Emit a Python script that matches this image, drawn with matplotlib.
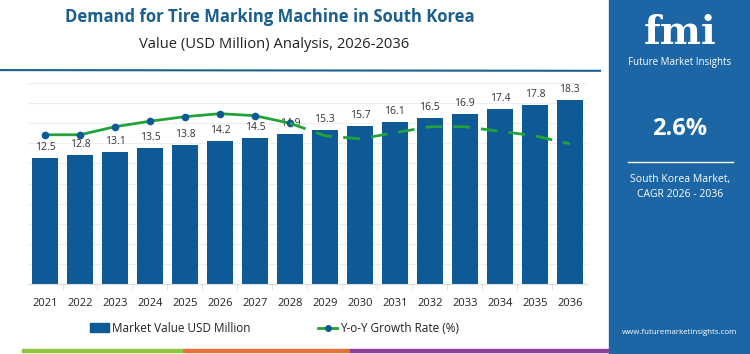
import matplotlib
matplotlib.use('Agg')
import matplotlib.pyplot as plt
from matplotlib.lines import Line2D
from matplotlib.patches import Patch, Rectangle

plt.rcParams['font.family'] = ['Open Sans', 'DejaVu Sans']

years = ['2021', '2022', '2023', '2024', '2025', '2026', '2027', '2028',
         '2029', '2030', '2031', '2032', '2033', '2034', '2035', '2036']
market_value = [12.5, 12.8, 13.1, 13.5, 13.8, 14.2, 14.5, 14.9,
                15.3, 15.7, 16.1, 16.5, 16.9, 17.4, 17.8, 18.3]
growth = [2.97, 2.97, 3.13, 3.24, 3.33, 3.39, 3.35, 3.20,
          2.95, 2.89, 3.01, 3.13, 3.13, 3.04, 2.95, 2.79]
n_actual = 8  # solid + markers up to 2028, dashed after

BAR = '#0d5a96'
LINE = '#22a33a'
DOT = '#0d5a96'
TITLE = '#1b5f8e'
PANEL = '#1c66a5'

fig = plt.figure(figsize=(7.5, 3.54), dpi=100)
ax = fig.add_axes([0.0367, 0.1977, 0.7463, 0.5678])
x = list(range(len(years)))

ax.bar(x, market_value, width=0.74, color=BAR, zorder=2)
for xi, v in zip(x, market_value):
    ax.annotate(f"{v}", (xi, v), xytext=(0, 4), textcoords='offset points',
                ha='center', va='bottom', fontsize=7.5, color='#333333', zorder=5)

ax.set_xlim(-0.5, len(years) - 0.5)
ax.set_ylim(0, 20)
ax.set_yticks(range(0, 21, 2))
ax.grid(True, axis='y', color='#eeeeee', linewidth=0.8, zorder=0)
ax.set_xticks(x)
ax.set_xticklabels(years, fontsize=8, color='#222222')
ax.set_xticks([i + 0.5 for i in x[:-1]], minor=True)
ax.tick_params(axis='x', which='major', length=0, pad=10)
ax.tick_params(axis='x', which='minor', length=4, color='#dddddd')
for s in ['top', 'right', 'left']:
    ax.spines[s].set_visible(False)
ax.spines['bottom'].set_color('#dddddd')

ax2 = ax.twinx()
ax2.set_ylim(0, 4)
ax2.axis('off')
ax.tick_params(axis='y', which='both', left=False, right=False,
               labelleft=False, labelright=False)
ax2.plot(x[:n_actual], growth[:n_actual], color=LINE, linewidth=2,
         marker='o', markersize=4.5, markerfacecolor=DOT, markeredgecolor=DOT, zorder=4)
ax2.plot(x[n_actual - 1:], growth[n_actual - 1:], color=LINE, linewidth=2,
         linestyle=(0, (6, 4)), zorder=4)

# titles
fig.text(0.36, 0.952, "Demand for Tire Marking Machine in South Korea",
         ha='center', va='center', fontsize=12, fontweight='bold', color=TITLE)
fig.text(0.366, 0.873, "Value (USD Million) Analysis, 2026-2036",
         ha='center', va='center', fontsize=10.6, color='#222222')
fig.add_artist(Line2D([0, 0.80], [0.802, 0.800], color=TITLE, linewidth=1.5,
                      transform=fig.transFigure))

# legend
handles = [Patch(color=BAR, label='Market Value USD Million'),
           Line2D([0], [0], color=LINE, linewidth=2, marker='o', markersize=4,
                  markerfacecolor=DOT, markeredgecolor=DOT, label='Y-o-Y Growth Rate (%)')]
fig.legend(handles=handles, loc='center', bbox_to_anchor=(0.366, 0.073), ncol=2,
           frameon=False, fontsize=8.5, handlelength=1.6, handletextpad=0.2,
           columnspacing=5.8, labelcolor='#222222')

# bottom colour strip
for x0, x1, c in [(22, 183, '#8dc63f'), (183, 350, '#e8703a'), (350, 609, '#8e3f96')]:
    fig.add_artist(Rectangle((x0 / 750, 2 / 354), (x1 - x0) / 750, 3 / 354,
                             color=c, transform=fig.transFigure))

# right panel
fig.add_artist(Rectangle((609 / 750, 0), 141 / 750, 1, color=PANEL,
                         transform=fig.transFigure, zorder=0))
px = 680 / 750
fig.text(px, 1 - 33 / 354, "fmi", ha='center', va='center', fontsize=28,
         fontweight='bold', color='white', family='DejaVu Serif')
fig.text(px, 1 - 62 / 354, "Future Market Insights", ha='center', va='center',
         fontsize=7, color='white')
fig.text(px, 1 - 129 / 354, "2.6%", ha='center', va='center', fontsize=17,
         fontweight='bold', color='white')
fig.add_artist(Line2D([628 / 750, 733 / 750], [1 - 162 / 354] * 2, color='white',
                      linewidth=1, transform=fig.transFigure))
fig.text(px, 1 - 187 / 354, "South Korea Market,\nCAGR 2026 - 2036", ha='center',
         va='center', fontsize=7.5, color='white', linespacing=1.5)
fig.text(px, 1 - 333 / 354, "www.futuremarketinsights.com", ha='center', va='center',
         fontsize=5.7, color='white')

plt.savefig('out.png', dpi=100)
plt.close()
